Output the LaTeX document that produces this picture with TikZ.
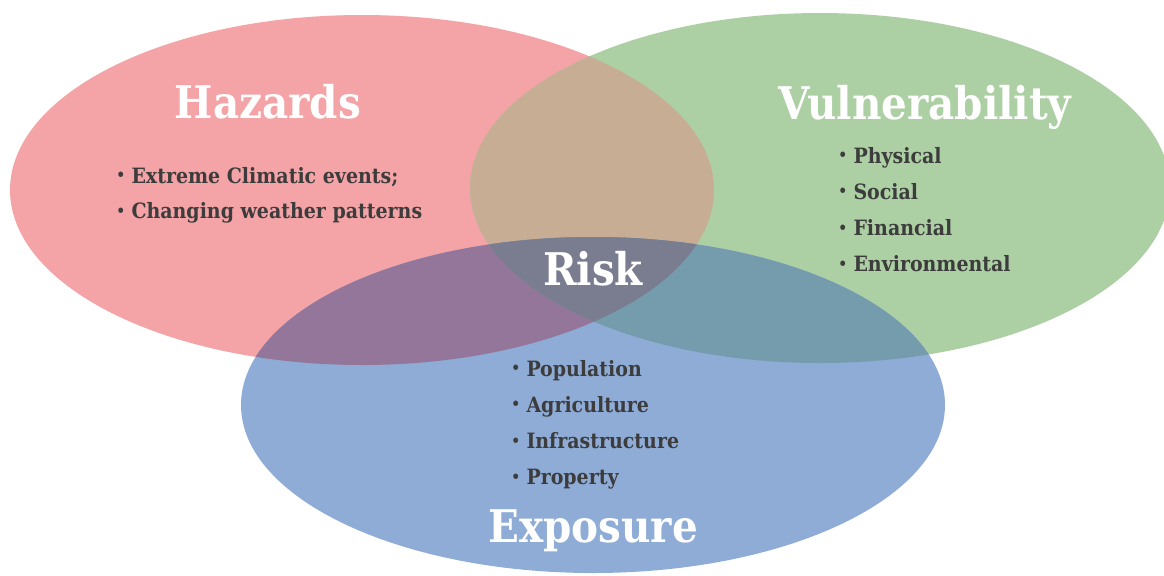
\documentclass[tikz,border=0pt]{standalone}
\usepackage{fontspec}
\setmainfont{DejaVu Serif Condensed}
\usetikzlibrary{positioning}
\definecolor{hazred}{HTML}{F4A3A6}
\definecolor{vulgreen}{HTML}{ADCFA4}
\definecolor{expblue}{HTML}{8FACD6}
\definecolor{redgreen}{HTML}{C6AD94}
\definecolor{redblue}{HTML}{937699}
\definecolor{greenblue}{HTML}{759CAD}
\definecolor{riskgrey}{HTML}{7A7D90}
\definecolor{itemgrey}{HTML}{3C3C3C}
\newcommand{\bul}{{\fontsize{11}{11}\selectfont\raisebox{0.3ex}{•}}\hspace{0.3em}}
\tikzset{
  title/.style={text=white, font=\bfseries\fontsize{32}{32}\selectfont,
    inner sep=0mm, anchor=base
  },
  item/.style={text=itemgrey, font=\bfseries\fontsize{15}{15}\selectfont,
    inner sep=0mm, anchor=base west
  }
}

\begin{document}
\begin{tikzpicture}[x=0.025cm, y=-0.025cm]
   \useasboundingbox (0,0) rectangle (1164,575);
   \def\hazpath{(362,190) ellipse [x radius=352, y radius=175]}
   \def\vulpath{(820,188) ellipse [x radius=350, y radius=175]}
   \def\exppath{(593,405) ellipse [x radius=352, y radius=168]}

   \fill[hazred] \hazpath;
   \fill[vulgreen] \vulpath;
   \fill[expblue] \exppath;
   \begin{scope}
      \clip \hazpath;
      \fill[redgreen] \vulpath;
      \fill[redblue] \exppath;
   \end{scope}
   \begin{scope}
      \clip \vulpath;
      \fill[greenblue] \exppath;
   \end{scope}
   \begin{scope}
      \clip \hazpath;
      \clip \vulpath;
      \fill[riskgrey] \exppath;
   \end{scope}

   \node[title] (hazards) at (268,118) {Hazards};
   \node[title] (vulnerability) at (925,119) {Vulnerability};
   \node[title] (risk) at (593,285) {Risk};
   \node[title] (exposure) at (593,542) {Exposure};

   \foreach \txt [count=\i from 0] in {Extreme Climatic events;, Changing weather patterns}
      \node[item] (haz\i) at (116, 183+35.5*\i) {\bul\txt};
   \foreach \txt [count=\i from 0] in {Physical, Social, Financial, Environmental}
      \node[item] (vul\i) at (838, 163+36.3*\i) {\bul\txt};
   \foreach \txt [count=\i from 0] in {Population, Agriculture, Infrastructure, Property}
      \node[item] (exp\i) at (511, 376+36.3*\i) {\bul\txt};
\end{tikzpicture}
\end{document}
